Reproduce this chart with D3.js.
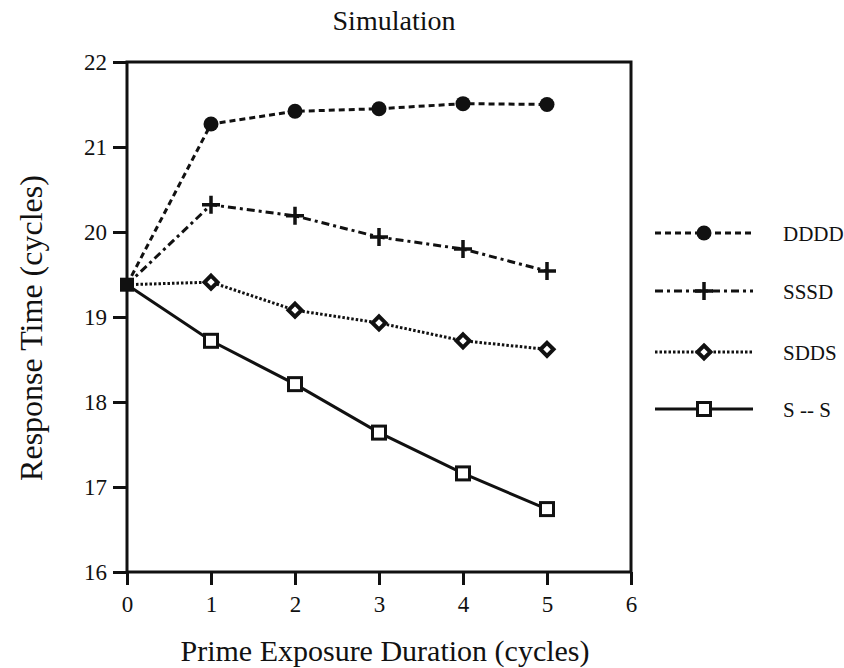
<!DOCTYPE html>
<html>
<head>
<meta charset="utf-8">
<script src="https://cdn.jsdelivr.net/npm/d3@7"></script>
<style>
  body { margin: 0; background: #fff; }
  text { font-family: "Liberation Serif", "DejaVu Serif", serif; fill: #111; }
</style>
</head>
<body>
<div id="chart"></div>
<script>
// data
var durations = [0, 1, 2, 3, 4, 5];
var dddd = [19.38, 21.27, 21.42, 21.45, 21.51, 21.50];
var sssd = [19.38, 20.32, 20.19, 19.94, 19.80, 19.54];
var sdds = [19.38, 19.41, 19.08, 18.93, 18.72, 18.62];
var ss   = [19.38, 18.72, 18.21, 17.64, 17.16, 16.74];
var seriesNames = ["DDDD", "SSSD", "SDDS", "S -- S"];
var xTicks = [0, 1, 2, 3, 4, 5, 6];
var yTicks = [16, 17, 18, 19, 20, 21, 22];

var width = 844, height = 668;
var plotLeft = 127, plotRight = 631, plotTop = 62, plotBottom = 572;

var svg = d3.select("#chart").append("svg").attr("width", width).attr("height", height);

var x = d3.scaleLinear().domain([0, 6]).range([plotLeft, plotRight]);
var y = d3.scaleLinear().domain([16, 22]).range([plotBottom, plotTop]);

// frame
svg.append("rect")
  .attr("x", plotLeft).attr("y", plotTop)
  .attr("width", plotRight - plotLeft).attr("height", plotBottom - plotTop)
  .attr("fill", "none").attr("stroke", "#111").attr("stroke-width", 3);

// axes
var xAxis = svg.append("g")
  .attr("transform", "translate(0," + plotBottom + ")")
  .call(d3.axisBottom(x).tickValues(xTicks).tickSize(13).tickPadding(11).tickFormat(d3.format("d")));
var yAxis = svg.append("g")
  .attr("transform", "translate(" + plotLeft + ",0)")
  .call(d3.axisLeft(y).tickValues(yTicks).tickSize(14).tickPadding(6).tickFormat(d3.format("d")));
[xAxis, yAxis].forEach(function (g) {
  g.attr("font-size", null).attr("font-family", null);
  g.select(".domain").remove();
  g.selectAll(".tick line").attr("stroke", "#111").attr("stroke-width", 3);
  g.selectAll(".tick text").style("font-size", "23px").attr("fill", "#111");
});

// titles
svg.append("text").attr("x", 394).attr("y", 30).attr("text-anchor", "middle")
  .style("font-size", "28px").text("Simulation");
svg.append("text").attr("x", 385).attr("y", 661).attr("text-anchor", "middle")
  .style("font-size", "30px").text("Prime Exposure Duration (cycles)");
svg.append("text").attr("transform", "translate(42," + 328 + ") rotate(-90)")
  .attr("text-anchor", "middle").style("font-size", "32px").text("Response Time (cycles)");

var allSeries = [
  { name: seriesNames[0], values: dddd, dash: "6,4", width: 3, marker: "circle" },
  { name: seriesNames[1], values: sssd, dash: "8,4,3,4", width: 3, marker: "plus" },
  { name: seriesNames[2], values: sdds, dash: "2.5,2", width: 3, marker: "diamond" },
  { name: seriesNames[3], values: ss, dash: null, width: 3, marker: "square" }
];

var line = d3.line().x(function (d, i) { return x(durations[i]); }).y(function (d) { return y(d); });

function drawMarker(g, type, cx, cy) {
  if (type === "circle") {
    g.append("circle").attr("cx", cx).attr("cy", cy).attr("r", 7.5).attr("fill", "#111");
  } else if (type === "plus") {
    g.append("path").attr("d", "M" + (cx - 9) + "," + cy + "H" + (cx + 9) + "M" + cx + "," + (cy - 9) + "V" + (cy + 9))
      .attr("stroke", "#111").attr("stroke-width", 3.5).attr("fill", "none");
  } else if (type === "diamond") {
    g.append("path").attr("d", "M" + cx + "," + (cy - 6.5) + "L" + (cx + 6.5) + "," + cy + "L" + cx + "," + (cy + 6.5) + "L" + (cx - 6.5) + "," + cy + "Z")
      .attr("stroke", "#111").attr("stroke-width", 4).attr("fill", "#fff");
  } else if (type === "square") {
    g.append("rect").attr("x", cx - 6.5).attr("y", cy - 6.5).attr("width", 13).attr("height", 13)
      .attr("stroke", "#111").attr("stroke-width", 3).attr("fill", "#fff");
  }
}

allSeries.forEach(function (s) {
  var g = svg.append("g");
  g.append("path").datum(s.values).attr("d", line)
    .attr("fill", "none").attr("stroke", "#111").attr("stroke-width", s.width)
    .attr("stroke-dasharray", s.dash);
  s.values.forEach(function (v, i) {
    if (i === 0) return;
    drawMarker(g, s.marker, x(durations[i]), y(v));
  });
});

// common starting point (filled square)
svg.append("rect")
  .attr("x", x(durations[0]) - 7).attr("y", y(ss[0]) - 7)
  .attr("width", 14).attr("height", 14).attr("fill", "#111");

// legend
var legendY = [233, 291, 352, 409];
allSeries.forEach(function (s, i) {
  var g = svg.append("g");
  var ly = legendY[i];
  g.append("line").attr("x1", 655).attr("x2", 753).attr("y1", ly).attr("y2", ly)
    .attr("stroke", "#111").attr("stroke-width", s.width).attr("stroke-dasharray", s.dash);
  drawMarker(g, s.marker, 704, ly);
  g.append("text").attr("x", 783).attr("y", ly + 8).style("font-size", "21px").text(s.name);
});
</script>
</body>
</html>
